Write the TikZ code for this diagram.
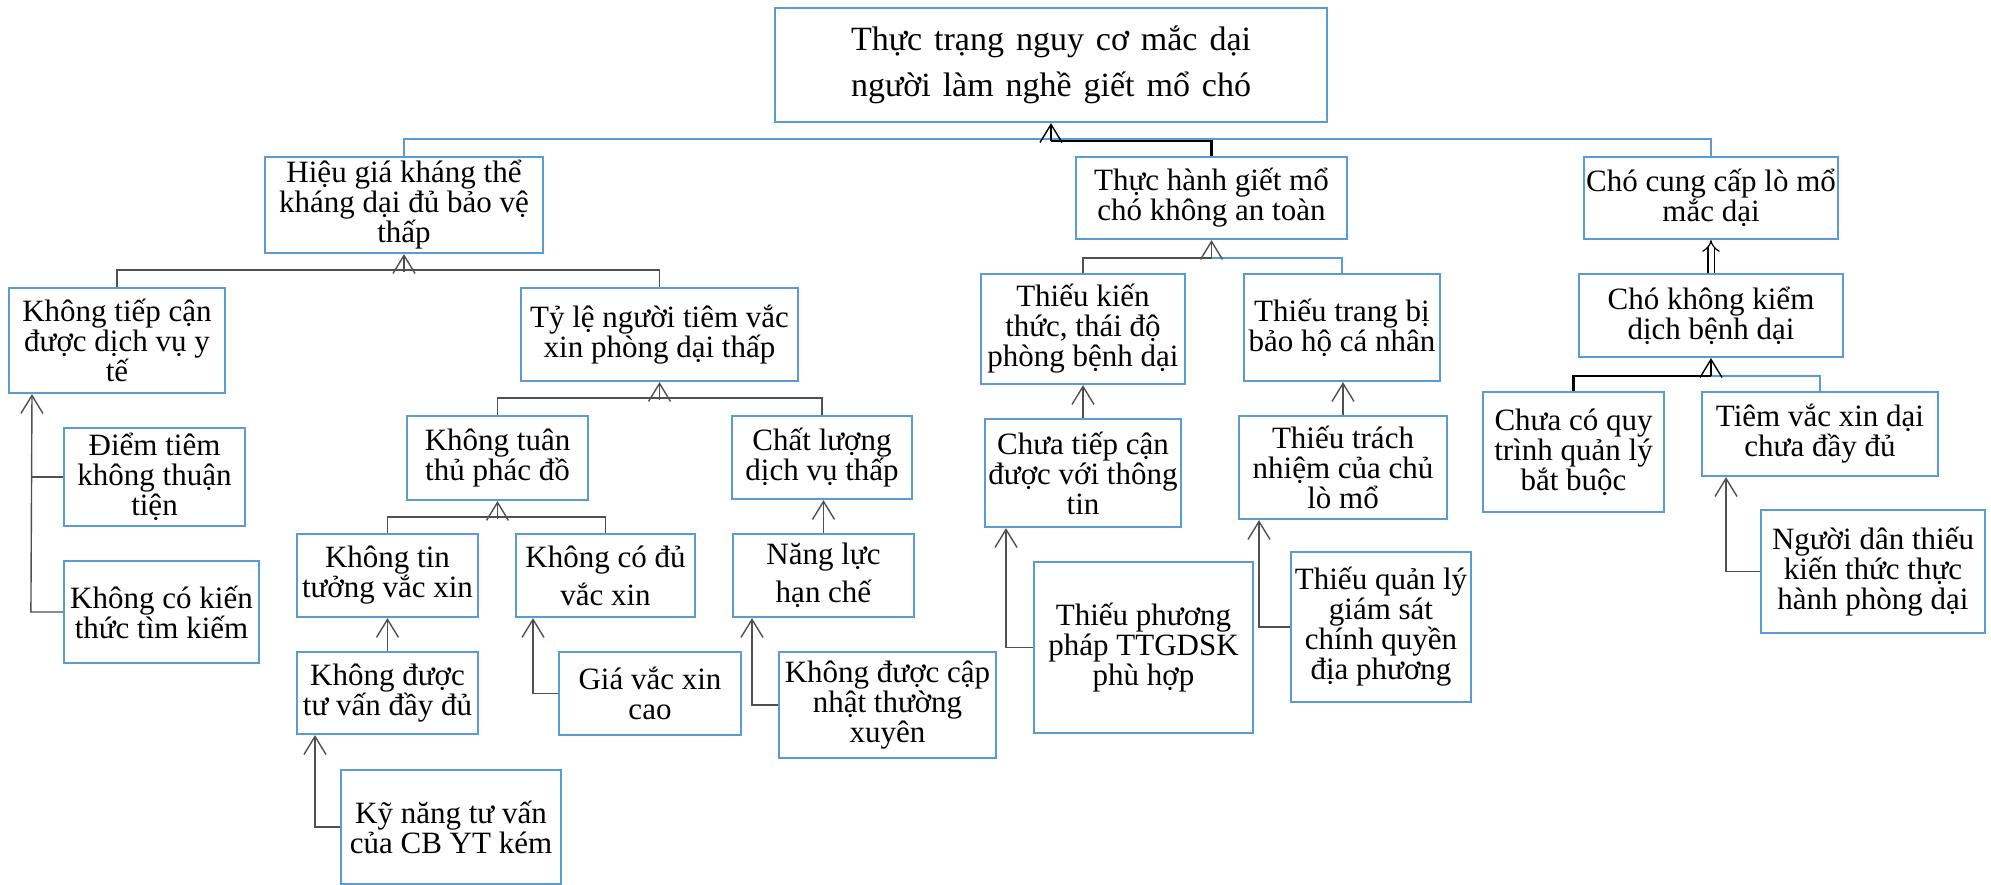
\documentclass[tikz,border=0pt]{standalone}
\usepackage{fontspec}
\setmainfont{Liberation Serif}
\usetikzlibrary{arrows.meta}
\definecolor{boxblue}{RGB}{91,155,213}
\definecolor{linegray}{RGB}{80,80,80}
\begin{document}
\begin{tikzpicture}
		[x=1pt,y=-1pt,
		box/.style={draw=boxblue,line width=2.2pt,fill=white,align=center,inner sep=2pt,
			font=\fontsize{31}{30}\selectfont},
		conn/.style={draw=linegray,line width=1.4pt},
		blueconn/.style={draw=boxblue,line width=2.4pt},
		blackconn/.style={draw=black,line width=2.2pt},
		arr/.style={conn,-{Straight Barb[length=18pt,width=22pt]}},
		dblarr/.style={draw=black,line width=1.2pt,double,double distance=5pt,-{Implies[length=9pt]}}]
		\useasboundingbox (0,0) rectangle (1991,885);
		\node[box,minimum width=552pt,minimum height=114pt,font=\fontsize{34}{46}\selectfont] (root) at (1051,65)
			{\makebox[400pt][s]{Thực trạng nguy cơ mắc dại}\\\makebox[400pt][s]{người làm nghề giết mổ chó}};
		\node[box,minimum width=278pt,minimum height=96pt] (hieu) at (404,205) {Hiệu giá kháng thể\\kháng dại đủ bảo vệ\\thấp};
		\node[box,minimum width=271pt,minimum height=82pt] (thuchanh) at (1211.5,198) {Thực hành giết mổ\\chó không an toàn};
		\node[box,minimum width=250pt,minimum height=82pt] (chocc) at (1711,198) {Chó cung cấp lò mổ\\mắc dại};
		\node[box,minimum width=216pt,minimum height=105pt] (ktc) at (117,340.5) {Không tiếp cận\\được dịch vụ y\\tế};
		\node[box,minimum width=181pt,minimum height=98pt] (diemtiem) at (154.5,477) {Điểm tiêm\\không thuận\\tiện};
		\node[box,minimum width=195pt,minimum height=102pt] (kckien) at (161.5,612) {Không có kiến\\thức tìm kiếm};
		\node[box,minimum width=277pt,minimum height=93pt] (tyle) at (659.5,334.5) {Tỷ lệ người tiêm vắc\\xin phòng dại thấp};
		\node[box,minimum width=181pt,minimum height=84pt] (ktuan) at (497.5,458) {Không tuân\\thủ phác đồ};
		\node[box,minimum width=180pt,minimum height=83pt] (chatluong) at (822,457.5) {Chất lượng\\dịch vụ thấp};
		\node[box,minimum width=181pt,minimum height=83pt] (ktin) at (387.5,575.5) {Không tin\\tưởng vắc xin};
		\node[box,minimum width=179pt,minimum height=83pt] (kcodu) at (605.5,575.5) {Không có đủ\\[8pt]vắc xin};
		\node[box,minimum width=181pt,minimum height=82pt] (kduoc) at (387.5,693) {Không được\\tư vấn đầy đủ};
		\node[box,minimum width=220pt,minimum height=114pt] (kynang) at (451,827) {Kỹ năng tư vấn\\của CB YT kém};
		\node[box,minimum width=182pt,minimum height=83pt] (giavx) at (650,693.5) {Giá vắc xin\\cao};
		\node[box,minimum width=181pt,minimum height=83pt] (nangluc) at (823.5,575.5) {Năng lực\\[8pt]hạn chế};
		\node[box,minimum width=217pt,minimum height=106pt] (kcapnhat) at (887.5,705) {Không được cập\\nhật thường\\xuyên};
		\node[box,minimum width=204pt,minimum height=110pt] (thieukt) at (1083,329) {Thiếu kiến\\thức, thái độ\\phòng bệnh dại};
		\node[box,minimum width=196pt,minimum height=107pt] (thieutb) at (1342,327.5) {Thiếu trang bị\\bảo hộ cá nhân};
		\node[box,minimum width=196pt,minimum height=108pt] (chuatc) at (1083,473) {Chưa tiếp cận\\được với thông\\tin};
		\node[box,minimum width=219pt,minimum height=171pt] (thieupp) at (1143.5,647.5) {Thiếu phương\\pháp TTGDSK\\phù hợp};
		\node[box,minimum width=208pt,minimum height=103pt] (thieutn) at (1343,467.5) {Thiếu trách\\nhiệm của chủ\\lò mổ};
		\node[box,minimum width=180pt,minimum height=150pt] (thieuql) at (1381,627) {Thiếu quản lý\\giám sát\\chính quyền\\địa phương};
		\node[box,minimum width=264pt,minimum height=83pt] (chokk) at (1711,315.5) {Chó không kiểm\\dịch bệnh dại};
		\node[box,minimum width=181pt,minimum height=120pt] (chuaco) at (1573.5,452) {Chưa có quy\\trình quản lý\\bắt buộc};
		\node[box,minimum width=236pt,minimum height=84pt] (tiemvx) at (1820,434) {Tiêm vắc xin dại\\chưa đầy đủ};
		\node[box,minimum width=224pt,minimum height=123pt] (nguoidan) at (1873,571.5) {Người dân thiếu\\kiến thức thực\\hành phòng dại};
		\draw[blueconn] (hieu.north) -- ++(0,-17) -| (chocc.north);
		\draw[blackconn] (root.south) ++(0,18) -| (thuchanh.north);
		\draw[arr,draw=black] ([yshift=-18pt]root.south) -- (root.south);
		\draw[conn] (ktc.north) -- ++(0,-17) -| (tyle.north);
		\draw[arr] ([yshift=-18pt]hieu.south) -- (hieu.south);
		\draw[conn] (diemtiem.west) -- ++(-32,0);
		\draw[arr] (kckien.west) -- ++(-32,0) -- ([xshift=-85pt]ktc.south);
		\draw[conn] (ktuan.north) -- ++(0,-17) -| (chatluong.north);
		\draw[arr] ([yshift=-18pt]tyle.south) -- (tyle.south);
		\draw[conn] (ktin.north) -- ++(0,-16) -| (kcodu.north);
		\draw[arr] ([yshift=-18pt]ktuan.south) -- (ktuan.south);
		\draw[arr] (kduoc.north) -- (ktin.south);
		\draw[arr] (kynang.west) -| ([xshift=-72.5pt]kduoc.south);
		\draw[arr] (giavx.west) -| ([xshift=-72.5pt]kcodu.south);
		\draw[arr] (nangluc.north) -- (nangluc.north |- chatluong.south);
		\draw[arr] (kcapnhat.west) -| ([xshift=-71.5pt]nangluc.south);
		\draw[conn] (thieukt.north) |- ([yshift=-18pt]thuchanh.south);
		\draw[blueconn] ([yshift=-18pt]thuchanh.south) -| (thieutb.north);
		\draw[arr] ([yshift=-18pt]thuchanh.south) -- (thuchanh.south);
		\draw[arr] (chuatc.north) -- (thieukt.south);
		\draw[arr] (thieupp.west) -| ([xshift=-77pt]chuatc.south);
		\draw[arr] (thieutn.north) -- (thieutn.north |- thieutb.south);
		\draw[arr] (thieuql.west) -| ([xshift=-84pt]thieutn.south);
		\draw[dblarr] (chokk.north) -- (chocc.south);
		\draw[blackconn] (chuaco.north) |- ([yshift=-18pt]chokk.south);
		\draw[blueconn] ([yshift=-18pt]chokk.south) -| (tiemvx.north);
		\draw[arr,draw=black] ([yshift=-18pt]chokk.south) -- (chokk.south);
		\draw[arr] (nguoidan.west) -| ([xshift=-94pt]tiemvx.south);
	\end{tikzpicture}
\end{document}
